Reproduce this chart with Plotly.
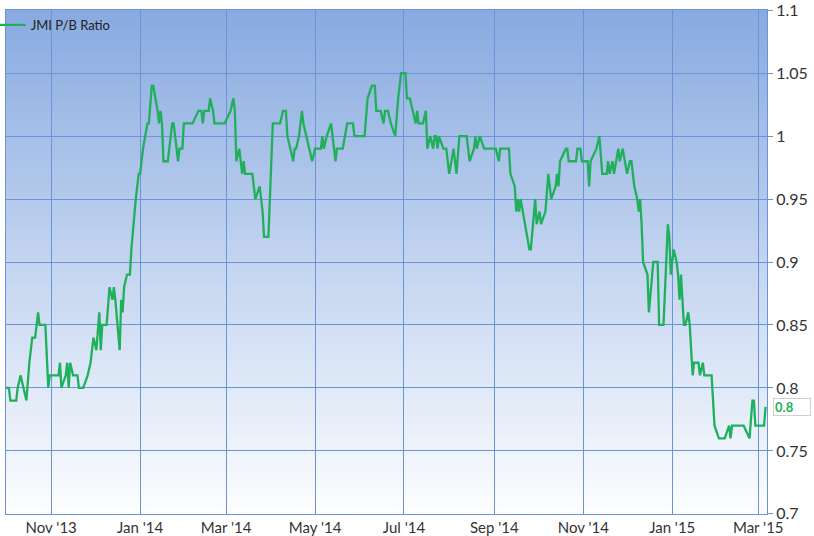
import plotly.graph_objects as go

series_name = "JMI P/B Ratio"

dates = [
    "2013-10-01", "2013-10-03", "2013-10-04", "2013-10-08", "2013-10-09", "2013-10-11",
    "2013-10-13", "2013-10-15", "2013-10-17", "2013-10-19", "2013-10-21", "2013-10-23",
    "2013-10-24", "2013-10-28", "2013-10-30", "2013-10-31", "2013-11-06", "2013-11-07",
    "2013-11-08", "2013-11-11", "2013-11-12", "2013-11-13", "2013-11-14", "2013-11-16",
    "2013-11-19", "2013-11-20", "2013-11-23", "2013-11-26", "2013-11-28", "2013-11-30",
    "2013-12-02", "2013-12-04", "2013-12-05", "2013-12-06", "2013-12-09", "2013-12-11",
    "2013-12-13", "2013-12-14", "2013-12-15", "2013-12-18", "2013-12-19", "2013-12-20",
    "2013-12-21", "2013-12-23", "2013-12-25", "2013-12-26", "2013-12-29", "2013-12-31",
    "2014-01-01", "2014-01-03", "2014-01-06", "2014-01-07", "2014-01-09", "2014-01-10",
    "2014-01-13", "2014-01-14", "2014-01-15", "2014-01-16", "2014-01-17", "2014-01-20",
    "2014-01-23", "2014-01-24", "2014-01-27", "2014-01-28", "2014-01-30", "2014-01-31",
    "2014-02-06", "2014-02-10", "2014-02-12", "2014-02-13", "2014-02-14", "2014-02-17",
    "2014-02-18", "2014-02-20", "2014-02-21", "2014-02-28", "2014-03-04", "2014-03-06",
    "2014-03-07", "2014-03-08", "2014-03-10", "2014-03-11", "2014-03-12", "2014-03-13",
    "2014-03-14", "2014-03-19", "2014-03-21", "2014-03-24", "2014-03-25", "2014-03-26",
    "2014-03-27", "2014-03-30", "2014-04-02", "2014-04-07", "2014-04-09", "2014-04-11",
    "2014-04-12", "2014-04-14", "2014-04-16", "2014-04-17", "2014-04-18", "2014-04-20",
    "2014-04-22", "2014-04-23", "2014-04-25", "2014-04-27", "2014-04-29", "2014-05-01",
    "2014-05-05", "2014-05-06", "2014-05-07", "2014-05-09", "2014-05-12", "2014-05-14",
    "2014-05-15", "2014-05-16", "2014-05-20", "2014-05-23", "2014-05-27", "2014-05-28",
    "2014-06-04", "2014-06-06", "2014-06-09", "2014-06-11", "2014-06-12", "2014-06-15",
    "2014-06-17", "2014-06-18", "2014-06-20", "2014-06-22", "2014-06-25", "2014-06-27",
    "2014-06-29", "2014-07-02", "2014-07-03", "2014-07-05", "2014-07-07", "2014-07-09",
    "2014-07-10", "2014-07-11", "2014-07-14", "2014-07-16", "2014-07-17", "2014-07-19",
    "2014-07-21", "2014-07-22", "2014-07-23", "2014-07-24", "2014-07-25", "2014-07-28",
    "2014-07-30", "2014-08-01", "2014-08-04", "2014-08-06", "2014-08-08", "2014-08-13",
    "2014-08-14", "2014-08-15", "2014-08-18", "2014-08-19", "2014-08-20", "2014-08-22",
    "2014-08-25", "2014-09-02", "2014-09-04", "2014-09-05", "2014-09-11", "2014-09-12",
    "2014-09-15", "2014-09-16", "2014-09-17", "2014-09-18", "2014-09-19", "2014-09-22",
    "2014-09-23", "2014-09-25", "2014-09-26", "2014-09-29", "2014-09-30", "2014-10-02",
    "2014-10-03", "2014-10-06", "2014-10-08", "2014-10-10", "2014-10-13", "2014-10-14",
    "2014-10-15", "2014-10-16", "2014-10-20", "2014-10-21", "2014-10-22", "2014-10-27",
    "2014-10-28", "2014-10-30", "2014-10-31", "2014-11-04", "2014-11-05", "2014-11-06",
    "2014-11-10", "2014-11-12", "2014-11-14", "2014-11-17", "2014-11-18", "2014-11-19",
    "2014-11-21", "2014-11-22", "2014-11-25", "2014-11-26", "2014-11-28", "2014-12-01",
    "2014-12-03", "2014-12-04", "2014-12-06", "2014-12-08", "2014-12-09", "2014-12-10",
    "2014-12-11", "2014-12-12", "2014-12-15", "2014-12-16", "2014-12-19", "2014-12-22",
    "2014-12-23", "2014-12-26", "2014-12-29", "2014-12-30", "2014-12-31", "2015-01-02",
    "2015-01-04", "2015-01-05", "2015-01-06", "2015-01-07", "2015-01-08", "2015-01-09",
    "2015-01-10", "2015-01-12", "2015-01-13", "2015-01-14", "2015-01-15", "2015-01-16",
    "2015-01-19", "2015-01-20", "2015-01-22", "2015-01-23", "2015-01-28", "2015-01-30",
    "2015-02-02", "2015-02-06", "2015-02-09", "2015-02-10", "2015-02-11", "2015-02-19",
    "2015-02-23", "2015-02-25", "2015-02-26", "2015-02-27", "2015-03-05", "2015-03-06",
]

values = [
    0.80, 0.80, 0.79, 0.79, 0.80, 0.81,
    0.80, 0.79, 0.82, 0.84, 0.84, 0.86,
    0.85, 0.85, 0.80, 0.81, 0.81, 0.82,
    0.80, 0.81, 0.82, 0.80, 0.82, 0.81,
    0.81, 0.80, 0.80, 0.81, 0.82, 0.84,
    0.83, 0.86, 0.83, 0.85, 0.85, 0.88,
    0.87, 0.88, 0.87, 0.83, 0.87, 0.86,
    0.88, 0.89, 0.89, 0.91, 0.95, 0.97,
    0.97, 0.99, 1.01, 1.01, 1.04, 1.04,
    1.02, 1.01, 1.02, 1.01, 0.98, 0.98,
    1.01, 1.01, 0.98, 0.99, 0.99, 1.01,
    1.01, 1.02, 1.02, 1.01, 1.02, 1.02,
    1.03, 1.02, 1.01, 1.01, 1.02, 1.03,
    1.02, 0.98, 0.99, 0.98, 0.97, 0.98,
    0.97, 0.97, 0.95, 0.96, 0.95, 0.94,
    0.92, 0.92, 1.01, 1.01, 1.02, 1.02,
    1.00, 0.99, 0.98, 0.99, 0.99, 1.00,
    1.02, 1.01, 1.00, 0.99, 0.98, 0.99,
    0.99, 1.00, 0.99, 1.00, 1.01, 0.99,
    0.98, 0.99, 0.99, 1.01, 1.01, 1.00,
    1.00, 1.03, 1.04, 1.04, 1.02, 1.02,
    1.01, 1.02, 1.02, 1.01, 1.00, 1.03,
    1.05, 1.05, 1.03, 1.03, 1.02, 1.01,
    1.02, 1.01, 1.01, 1.02, 0.99, 1.00,
    0.99, 1.00, 1.00, 0.99, 1.00, 0.99,
    0.99, 0.97, 0.99, 0.97, 1.00, 1.00,
    0.99, 0.98, 0.99, 1.00, 0.99, 1.00,
    0.99, 0.99, 0.98, 0.99, 0.99, 0.97,
    0.96, 0.94, 0.95, 0.94, 0.95, 0.93,
    0.92, 0.91, 0.91, 0.95, 0.93, 0.94,
    0.93, 0.94, 0.97, 0.95, 0.96, 0.97,
    0.96, 0.98, 0.99, 0.99, 0.98, 0.98,
    0.99, 0.99, 0.98, 0.98, 0.96, 0.98,
    0.99, 1.00, 0.97, 0.97, 0.98, 0.97,
    0.98, 0.97, 0.99, 0.98, 0.99, 0.97,
    0.98, 0.98, 0.96, 0.95, 0.94, 0.95,
    0.93, 0.90, 0.89, 0.86, 0.90, 0.90,
    0.85, 0.85, 0.93, 0.92, 0.89, 0.91,
    0.90, 0.89, 0.87, 0.89, 0.87, 0.85,
    0.85, 0.86, 0.85, 0.83, 0.81, 0.82,
    0.82, 0.81, 0.82, 0.81, 0.81, 0.77,
    0.76, 0.76, 0.77, 0.76, 0.77, 0.77,
    0.76, 0.79, 0.79, 0.77, 0.77, 0.785,
]

y_tick_vals = [0.7, 0.75, 0.8, 0.85, 0.9, 0.95, 1.0, 1.05, 1.1]
y_tick_text = ["0.7", "0.75", "0.8", "0.85", "0.9", "0.95", "1", "1.05", "1.1"]
y_range = [0.6999, 1.1001]
x_range = ["2013-10-01", "2015-03-07"]

LINE_COLOR = "#20b05c"
GRID_COLOR = "#6b93d8"
TEXT_COLOR = "#333333"
FONT = "Lato, Open Sans, DejaVu Sans, sans-serif"

fig = go.Figure()
fig.add_trace(go.Scatter(
    x=dates, y=values, mode="lines", name=series_name,
    line=dict(color=LINE_COLOR, width=2.3),
))

# vertical gradient background (blue at top -> white at bottom)
top_rgb = (136, 170, 224)
bot_rgb = (253, 254, 255)
n_bands = 127
shapes = []
for i in range(n_bands):
    t = (i + 0.5) / n_bands
    c = tuple(round(bot_rgb[k] + (top_rgb[k] - bot_rgb[k]) * t) for k in range(3))
    shapes.append(dict(
        type="rect", xref="x domain", yref="y domain",
        x0=0, x1=1, y0=i / n_bands, y1=min(1, (i + 1) / n_bands + 0.003),
        fillcolor="rgb(%d,%d,%d)" % c, line=dict(width=0), layer="below",
    ))

fig.update_layout(
    width=814, height=536,
    margin=dict(l=6, r=47, t=10, b=22, autoexpand=False),
    paper_bgcolor="white",
    plot_bgcolor="white",
    shapes=shapes,
    font=dict(family=FONT, color=TEXT_COLOR, size=13),
    showlegend=True,
    legend=dict(
        x=-0.02, y=1, xanchor="left", yanchor="top",
        bgcolor="rgba(0,0,0,0)", borderwidth=0,
        font=dict(size=13, color="#222222", family=FONT),
        itemwidth=30,
    ),
    xaxis=dict(
        type="date", range=x_range,
        tick0="2013-11-01", dtick="M2", tickformat="%b '%y",
        showgrid=True, gridcolor=GRID_COLOR, gridwidth=1,
        showline=True, linecolor=GRID_COLOR, linewidth=1, mirror=True,
        ticks="", tickfont=dict(size=15, color=TEXT_COLOR),
        ticklabeloverflow="allow",
        zeroline=False, fixedrange=True,
    ),
    yaxis=dict(
        side="right", range=y_range,
        tickvals=y_tick_vals, ticktext=y_tick_text,
        showgrid=True, gridcolor=GRID_COLOR, gridwidth=1,
        showline=True, linecolor=GRID_COLOR, linewidth=1, mirror=True,
        ticks="outside", ticklen=5, tickcolor=GRID_COLOR,
        tickfont=dict(size=16, color=TEXT_COLOR),
        ticklabeloverflow="allow",
        zeroline=False, fixedrange=True,
    ),
    annotations=[dict(
        xref="paper", x=1, xanchor="left", xshift=6,
        yref="y", y=values[-1], yanchor="middle",
        text="<b>%.1f</b>" % values[-1], showarrow=False,
        bgcolor="white", bordercolor="#cfcfcf", borderwidth=1, borderpad=1,
        width=34, height=14, align="left",
        font=dict(size=13, color=LINE_COLOR, family=FONT),
    )],
)

fig.write_html(
    "out.html",
    config={"displayModeBar": False},
    post_script="document.body.style.margin='0px';document.body.style.overflow='hidden';",
)
